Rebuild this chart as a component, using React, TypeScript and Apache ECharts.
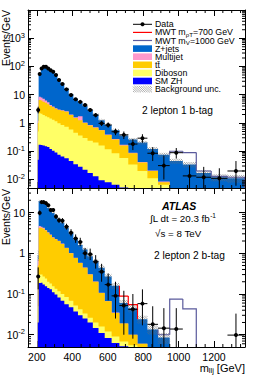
import React, { useEffect, useRef } from "react";
import * as echarts from "echarts";

// ---------- data ----------
const binEdges = [205, 210, 222, 232, 245, 258, 271, 285, 300, 316, 334, 355, 380, 406, 432, 458, 486, 516, 548, 583, 622, 666, 716, 768, 824, 884, 950, 1024, 1100, 1184, 1276, 1372];

// 2 lepton 1 b-tag
const top_data = [2.9, 54, 85, 98, 98, 85, 74, 65, 50, 33, 24, 15.5, 9.8, 6.9, 5.6, 4.3, 2.9, 1.9, 0.97, 0.85, 0.49, 0.38, 0.18, 0.29, 0.085, 0.031, 0.089, 0.0134, 0.012, 0.011, 0.02];
const top_dataLo = [2.2, 51, 82, 95, 95, 82, 71, 62, 48, 31, 22.5, 14.5, 9, 6.2, 5.0, 3.8, 2.5, 1.6, 0.78, 0.68, 0.37, 0.27, 0.11, 0.2, 0.045, 0.01, 0.055, 0.003, 0.003, 0.0025, 0.006];
const top_dataHi = [3.7, 57, 88, 101, 101, 88, 77, 68, 52, 35, 25.5, 16.5, 10.6, 7.6, 6.2, 4.8, 3.3, 2.2, 1.2, 1.05, 0.63, 0.5, 0.27, 0.4, 0.14, 0.07, 0.13, 0.032, 0.028, 0.025, 0.045];
const top_zjets = [2.0, 49.5, 80, 88.8, 87.8, 80.6, 71.7, 60.2, 46.7, 33, 22.2, 13.9, 8.5, 5.6, 3.65, 2.95, 2.05, 1.3, 0.69, 0.46, 0.28, 0.19, 0.17, 0.16, 0.1, 0.066, 0.04, 0.03, 0.014, 0.01, 0.0095];
const top_multijet = [0.2, 2.0, 1.8, 1.5, 1.0, 0.8, 0.3, 0.2, 0.1, 0.1, 0.1, 0.1, 0.1, 0.1, 0.5, 0.05, 0.03, 0.02, 0.01, 0.01, 0.01, 0.008, 0.003, 0.002, 0.001, 0.0005, 0, 0, 0, 0, 0];
const top_ttbar = [0.5, 4.3, 4.1, 3.8, 3.45, 3.0, 2.55, 2.3, 2.05, 1.92, 1.85, 1.76, 1.32, 1.05, 0.89, 0.71, 0.58, 0.48, 0.39, 0.26, 0.175, 0.102, 0.051, 0.02, 0.009, 0.0015, 0.001, 0.001, 0.001, 0.0005, 0.0005];
const top_diboson = [0.45, 2.03, 1.94, 1.74, 1.6, 1.46, 1.33, 1.2, 1.06, 0.9, 0.79, 0.68, 0.54, 0.42, 0.33, 0.27, 0.22, 0.19, 0.15, 0.11, 0.079, 0.053, 0.03, 0.017, 0.0088, 0.0049, 0.0028, 0.0021, 0.0013, 0.001, 0.0006];
const top_smzh = [0.05, 0.17, 0.165, 0.16, 0.15, 0.14, 0.12, 0.105, 0.09, 0.075, 0.065, 0.056, 0.045, 0.035, 0.028, 0.022, 0.017, 0.013, 0.0095, 0.008, 0.0065, 0.0052, 0.004, 0.003, 0.0022, 0.0016, 0.0012, 0.0009, 0.0007, 0.0005, 0.0004];
const top_unc = [0.3, 0.06, 0.05, 0.05, 0.05, 0.05, 0.05, 0.05, 0.05, 0.06, 0.06, 0.06, 0.07, 0.07, 0.08, 0.08, 0.09, 0.1, 0.1, 0.11, 0.12, 0.13, 0.14, 0.15, 0.16, 0.18, 0.2, 0.22, 0.25, 0.28, 0.3];
const top_sig700 = [0, 0, 0, 0, 0, 0, 0, 0, 0, 0, 0, 0, 0, 0, 0, 0, 0, 0, 0, 0, 0, 0, 0, 0, 0, 0, 0, 0, 0, 0, 0];
const top_sig1000 = [0, 0, 0, 0, 0, 0, 0, 0, 0, 0, 0, 0, 0, 0, 0, 0, 0, 0, 0, 0, 0, 0, 0, 0, 0, 0, 0.055, 0.056, 0.003, 0.001, 0.001];

// 2 lepton 2 b-tag
const bot_data = [0.27, 9.8, 18, 18, 17, 15, 11.5, 11.5, 8, 6.5, 6.3, 4.5, 3.2, 2.3, 1.9, 1.0, 0.95, 0.62, 0.35, 0.17, 0.09, 0.052, 0.042, 0.058, 0.018, 0.0145, 0.0138, 0, 0, 0, 0.0098];
const bot_dataLo = [0.13, 8.5, 16.5, 16.5, 15.5, 13.5, 10.2, 10.2, 7, 5.6, 5.4, 3.8, 2.6, 1.8, 1.5, 0.72, 0.68, 0.42, 0.2, 0.07, 0.025, 0.01, 0.008, 0.017, 0.003, 0.002, 0.002, 0, 0, 0, 0.0015];
const bot_dataHi = [0.45, 11.2, 19.5, 19.5, 18.5, 16.5, 12.8, 12.8, 9.2, 7.5, 7.3, 5.3, 3.9, 2.9, 2.4, 1.35, 1.3, 0.9, 0.55, 0.32, 0.2, 0.12, 0.1, 0.13, 0.05, 0.045, 0.045, 0, 0, 0, 0.033];
const bot_zjets = [0.2, 14.2, 13, 12.8, 12.75, 9.7, 8.52, 7.34, 5.55, 4.66, 3.87, 2.83, 2.135, 1.42, 1.012, 0.784, 0.536, 0.437, 0.332, 0.203, 0.125, 0.041, 0.035, 0.018, 0.0095, 0.0055, 0, 0, 0, 0, 0];
const bot_multijet = [0.2, 0.5, 0.3, 0.2, 0.15, 0.1, 0.08, 0.06, 0.05, 0.04, 0.03, 0.02, 0.015, 0.01, 0.008, 0.006, 0.004, 0.003, 0.002, 0.001, 0.001, 0, 0, 0, 0, 0, 0, 0, 0, 0, 0];
const bot_ttbar = [0.45, 3.9, 3.9, 3.73, 3.36, 3.0, 2.62, 2.245, 2.065, 1.884, 1.6, 1.265, 0.932, 0.718, 0.538, 0.407, 0.274, 0.18, 0.09, 0.054, 0.025, 0.0122, 0.0045, 0.0018, 0.0008, 0.0004, 0, 0, 0, 0, 0];
const bot_diboson = [0.03, 0.114, 0.11, 0.1, 0.085, 0.06, 0.05, 0.045, 0.038, 0.034, 0.032, 0.029, 0.021, 0.015, 0.012, 0.008, 0.006, 0.0054, 0.005, 0.0037, 0.0027, 0.0016, 0.0015, 0.0012, 0.0007, 0.0006, 0, 0, 0, 0, 0];
const bot_smzh = [0.02, 0.186, 0.19, 0.17, 0.155, 0.14, 0.13, 0.11, 0.097, 0.082, 0.068, 0.056, 0.047, 0.037, 0.03, 0.025, 0.02, 0.0146, 0.011, 0.0083, 0.0063, 0.0052, 0.004, 0.003, 0.0025, 0.002, 0, 0, 0, 0, 0];
const bot_unc = [0.3, 0.08, 0.07, 0.07, 0.07, 0.07, 0.07, 0.07, 0.08, 0.08, 0.08, 0.09, 0.09, 0.1, 0.1, 0.11, 0.12, 0.13, 0.14, 0.15, 0.16, 0.18, 0.2, 0.22, 0.25, 0.3, 0, 0, 0, 0, 0];
const bot_sig700 = [0, 0, 0, 0, 0, 0, 0, 0, 0, 0, 0, 0, 0, 0, 0, 0, 0, 0, 0, 0, 0, 0.029, 0.01, 0, 0, 0, 0, 0, 0, 0, 0];
const bot_sig1000 = [0, 0, 0, 0, 0, 0, 0, 0, 0, 0, 0, 0, 0, 0, 0, 0, 0, 0, 0, 0, 0, 0, 0, 0, 0, 0.0015, 0.075, 0.043, 0, 0, 0];

const xTickValues = [200, 400, 600, 800, 1000, 1200];
const legendNames = ["Data", "MWT m{sub|ρT}=700 GeV", "MWT m{sub|V}=1000 GeV", "Z+jets", "Multijet", "tt\u0304", "Diboson", "SM ZH", "Background unc."];

// ---------- style ----------
const X_MIN = 150;
const X_MAX = 1375;
const FONT = "Liberation Sans, Arial, Helvetica, sans-serif";
const C = {
  zjets: "#0066cc",
  multijet: "#ff99cc",
  ttbar: "#ffcc00",
  diboson: "#ffff66",
  smzh: "#0000ff",
  sig700: "#ff0000",
  sig1000: "#5a5a9c",
};

function cumul(...arrs: number[][]) {
  return arrs[0].map((_, i) => arrs.reduce((s, a) => s + a[i], 0));
}

function buildPanel(p: number, d: any, ymin: number, ymax: number) {
  const xi = p * 2;
  const yi = p * 2;
  const zh = d.smzh;
  const dib = cumul(d.smzh, d.diboson);
  const tt = cumul(d.smzh, d.diboson, d.ttbar);
  const mj = cumul(d.smzh, d.diboson, d.ttbar, d.multijet);
  const tot = cumul(d.smzh, d.diboson, d.ttbar, d.multijet, d.zjets);
  const binData = binEdges.slice(0, -1).map((e, i) => [e, binEdges[i + 1], tot[i]]);
  const series: any[] = [];

  const layer = (vals: number[], color: string) => ({
    type: "custom",
    xAxisIndex: xi,
    yAxisIndex: yi,
    clip: true,
    silent: true,
    data: binData,
    renderItem: (params: any, api: any) => {
      if (params.dataIndex !== 0) return null;
      const pts: number[][] = [];
      pts.push(api.coord([binEdges[0], ymin]));
      vals.forEach((v, i) => {
        const vv = Math.max(v, ymin);
        pts.push(api.coord([binEdges[i], vv]));
        pts.push(api.coord([binEdges[i + 1], vv]));
      });
      pts.push(api.coord([binEdges[binEdges.length - 1], ymin]));
      return { type: "polygon", shape: { points: pts }, style: { fill: color, stroke: null } };
    },
  });
  series.push(layer(tot, C.zjets));
  series.push(layer(mj, C.multijet));
  series.push(layer(tt, C.ttbar));
  series.push(layer(dib, C.diboson));
  series.push(layer(zh, C.smzh));

  // uncertainty hatch
  series.push({
    type: "custom",
    xAxisIndex: xi,
    yAxisIndex: yi,
    clip: true,
    silent: true,
    data: binData,
    renderItem: (params: any, api: any) => {
      const i = params.dataIndex;
      const u = d.unc[i];
      const t = tot[i];
      if (!(t > 0) || !(u > 0)) return null;
      const lo = Math.max(t * (1 - u), ymin);
      const hi = Math.max(t * (1 + u), ymin);
      const a = api.coord([binEdges[i], hi]);
      const b = api.coord([binEdges[i + 1], lo]);
      const x0 = a[0], y0 = a[1], x1 = b[0], y1 = b[1];
      const s = 2.2;
      const children: any[] = [];
      const cStart = Math.floor((y0 - x1) / s) * s;
      for (let c = cStart; c <= y1 - x0; c += s) {
        const xa = Math.max(x0, y0 - c);
        const xb = Math.min(x1, y1 - c);
        if (xb > xa) {
          children.push({ type: "line", shape: { x1: xa, y1: xa + c, x2: xb, y2: xb + c }, style: { stroke: "#6b6b6b", lineWidth: 0.6 } });
        }
      }
      return { type: "group", children };
    },
  });

  // signal outlines (stacked on background)
  const sigLine = (sig: number[], color: string) => ({
    type: "custom",
    xAxisIndex: xi,
    yAxisIndex: yi,
    clip: true,
    silent: true,
    data: binData,
    renderItem: (params: any, api: any) => {
      const i = params.dataIndex;
      if (!(sig[i] > 0)) return null;
      const out = (k: number) => (k < 0 || k >= tot.length ? ymin : Math.max(tot[k] + sig[k], ymin));
      const pts: number[][] = [];
      pts.push(api.coord([binEdges[i], out(i - 1)]));
      pts.push(api.coord([binEdges[i], out(i)]));
      pts.push(api.coord([binEdges[i + 1], out(i)]));
      if (!(sig[i + 1] > 0)) pts.push(api.coord([binEdges[i + 1], out(i + 1)]));
      return { type: "polyline", shape: { points: pts }, style: { stroke: color, lineWidth: 1.2, fill: null } };
    },
  });
  series.push(sigLine(d.sig700, C.sig700));
  series.push(sigLine(d.sig1000, C.sig1000));

  // data points
  series.push({
    type: "custom",
    xAxisIndex: xi,
    yAxisIndex: yi,
    clip: true,
    silent: true,
    data: binEdges.slice(0, -1).map((e, i) => [(e + binEdges[i + 1]) / 2, d.data[i]]),
    renderItem: (params: any, api: any) => {
      const i = params.dataIndex;
      const v = d.data[i];
      if (!(v > 0)) return null;
      const c = api.coord([api.value(0), v]);
      const l = api.coord([binEdges[i], v]);
      const r = api.coord([binEdges[i + 1], v]);
      const lo = api.coord([api.value(0), Math.max(d.dataLo[i], ymin)]);
      const hi = api.coord([api.value(0), d.dataHi[i]]);
      return {
        type: "group",
        children: [
          { type: "line", shape: { x1: c[0], y1: lo[1], x2: c[0], y2: hi[1] }, style: { stroke: "#000", lineWidth: 1 } },
          { type: "line", shape: { x1: l[0], y1: c[1], x2: r[0], y2: c[1] }, style: { stroke: "#000", lineWidth: 1 } },
          { type: "circle", shape: { cx: c[0], cy: c[1], r: 2 }, style: { fill: "#000" } },
        ],
      };
    },
  });

  // minor ticks (log y and linear x)
  const ticks: number[][] = [];
  for (let k = -3; k <= 4; k++) for (let m = 2; m <= 9; m++) ticks.push([0, m * Math.pow(10, k)]);
  for (let xv = 50; xv <= 1400; xv += 50) if (xv % 200 !== 0) ticks.push([1, xv]);
  series.push({
    type: "custom",
    xAxisIndex: xi,
    yAxisIndex: yi,
    clip: false,
    silent: true,
    data: ticks,
    renderItem: (params: any, api: any) => {
      const kind = api.value(0);
      const v = api.value(1);
      const cs = params.coordSys;
      const st = { stroke: "#000", lineWidth: 1 };
      if (kind === 0) {
        if (v <= ymin || v >= ymax) return null;
        const y = api.coord([X_MIN, v])[1];
        return {
          type: "group",
          children: [
            { type: "line", shape: { x1: cs.x, y1: y, x2: cs.x + 3, y2: y }, style: st },
            { type: "line", shape: { x1: cs.x + cs.width - 3, y1: y, x2: cs.x + cs.width, y2: y }, style: st },
          ],
        };
      }
      if (v <= X_MIN || v >= X_MAX) return null;
      const x = api.coord([v, ymin])[0];
      return {
        type: "group",
        children: [
          { type: "line", shape: { x1: x, y1: cs.y + cs.height, x2: x, y2: cs.y + cs.height - 3 }, style: st },
          { type: "line", shape: { x1: x, y1: cs.y, x2: x, y2: cs.y + 3 }, style: st },
        ],
      };
    },
  });
  return series;
}

const yFormatter = (v: number) => {
  const l = Math.log10(v);
  const k = Math.round(l);
  if (Math.abs(l - k) > 1e-6) return "";
  if (k === 0) return "1";
  if (k === 1) return "10";
  return `10{sup|${k}}`;
};

function xAxisCfg(grid: number, pos: "top" | "bottom", labels: boolean) {
  return {
    type: "value",
    gridIndex: grid,
    position: pos,
    min: X_MIN,
    max: X_MAX,
    splitNumber: 6,
    axisLine: { show: true, onZero: false, lineStyle: { color: "#000", width: 1 } },
    axisTick: { show: true, inside: true, length: 6, lineStyle: { color: "#000" } },
    axisLabel: {
      show: labels,
      fontSize: 10.5,
      fontFamily: FONT,
      color: "#000",
      margin: 4,
      showMinLabel: false,
      showMaxLabel: false,
      formatter: (v: number) => (xTickValues.includes(Math.round(v)) ? String(Math.round(v)) : ""),
    },
    splitLine: { show: false },
  };
}

function yAxisCfg(grid: number, pos: "left" | "right", labels: boolean, min: number, max: number) {
  return {
    type: "log",
    logBase: 10,
    gridIndex: grid,
    position: pos,
    min,
    max,
    axisLine: { show: true, lineStyle: { color: "#000", width: 1 } },
    axisTick: { show: true, inside: true, length: 6, lineStyle: { color: "#000" } },
    axisLabel: {
      show: labels,
      fontSize: 10.5,
      fontFamily: FONT,
      color: "#000",
      margin: 3,
      showMinLabel: false,
      showMaxLabel: false,
      formatter: yFormatter,
      rich: { sup: { fontSize: 7.5, fontFamily: FONT, color: "#000", verticalAlign: "top", padding: [0, 0, 6, 0] } },
    },
    splitLine: { show: false },
  };
}

function legendGraphic() {
  const els: any[] = [];
  const x0 = 133, x1 = 152, tx = 155;
  const rich = { sub: { fontSize: 6.2, fontFamily: FONT, fill: "#000", padding: [4, 0, 0, 0], lineHeight: 7 } };
  const fills = [C.zjets, C.multijet, C.ttbar, C.diboson, C.smzh];
  legendNames.forEach((name, i) => {
    const y = 24.3 + i * 8.1;
    els.push({ type: "text", x: tx, y, style: { text: name, fontSize: 8.8, lineHeight: 7, fontFamily: FONT, fill: "#000", verticalAlign: "middle", rich } });
    if (i === 0) {
      els.push({ type: "line", shape: { x1: x0, y1: y, x2: x1, y2: y }, style: { stroke: "#000", lineWidth: 1 } });
      els.push({ type: "circle", shape: { cx: (x0 + x1) / 2, cy: y, r: 2 }, style: { fill: "#000" } });
    } else if (i === 1 || i === 2) {
      els.push({ type: "line", shape: { x1: x0, y1: y, x2: x1, y2: y }, style: { stroke: i === 1 ? C.sig700 : C.sig1000, lineWidth: 1.2 } });
    } else if (i >= 3 && i <= 7) {
      els.push({ type: "rect", shape: { x: x0, y: y - 3.3, width: x1 - x0, height: 6.6 }, style: { fill: fills[i - 3] } });
    } else {
      const yt = y - 3.3, yb = y + 3.3;
      for (let c = yt - x1; c <= yb - x0; c += 2.2) {
        const xa = Math.max(x0, yt - c);
        const xb = Math.min(x1, yb - c);
        if (xb > xa) els.push({ type: "line", shape: { x1: xa, y1: xa + c, x2: xb, y2: xb + c }, style: { stroke: "#777", lineWidth: 0.6 } });
      }
    }
  });
  return els;
}

function buildOption() {
  const topP = { data: top_data, dataLo: top_dataLo, dataHi: top_dataHi, zjets: top_zjets, multijet: top_multijet, ttbar: top_ttbar, diboson: top_diboson, smzh: top_smzh, unc: top_unc, sig700: top_sig700, sig1000: top_sig1000 };
  const botP = { data: bot_data, dataLo: bot_dataLo, dataHi: bot_dataHi, zjets: bot_zjets, multijet: bot_multijet, ttbar: bot_ttbar, diboson: bot_diboson, smzh: bot_smzh, unc: bot_unc, sig700: bot_sig700, sig1000: bot_sig1000 };
  const txt = (text: string, x: number, y: number, extra: any = {}) => ({
    type: "text",
    x,
    y,
    style: { text, fontSize: 10, fontFamily: FONT, fill: "#000", verticalAlign: "middle", ...extra },
  });
  const vtitle = (y: number) => ({
    type: "text",
    x: 6,
    y,
    rotation: Math.PI / 2,
    style: { text: "Events/GeV", fontSize: 10.5, fontFamily: FONT, fill: "#000", align: "right", verticalAlign: "middle" },
  });
  return {
    animation: false,
    backgroundColor: "#fff",
    grid: [
      { left: 28, top: 10, width: 217, height: 178 },
      { left: 28, top: 188, width: 217, height: 159 },
    ],
    xAxis: [xAxisCfg(0, "bottom", false), xAxisCfg(0, "top", false), xAxisCfg(1, "bottom", true), xAxisCfg(1, "top", false)],
    yAxis: [yAxisCfg(0, "left", true, 0.005, 10000), yAxisCfg(0, "right", false, 0.005, 10000), yAxisCfg(1, "left", true, 0.005, 40), yAxisCfg(1, "right", false, 0.005, 40)],
    series: [...buildPanel(0, topP, 0.005, 10000), ...buildPanel(1, botP, 0.005, 40)],
    graphic: [
      ...legendGraphic(),
      txt("2 lepton 1 b-tag", 142, 110, { fontSize: 10.2 }),
      txt("ATLAS", 162, 206, { fontSize: 10.5, fontWeight: "bold", fontStyle: "italic" }),
      txt("\u222BL dt = 20.3 fb{sup|-1}", 150, 218, { fontSize: 9.8, rich: { sup: { fontSize: 6.5, fontFamily: FONT, fill: "#000", padding: [0, 0, 5, 0] } } }),
      txt("\u221As = 8 TeV", 155, 233, { fontSize: 9.8 }),
      txt("2 lepton 2 b-tag", 154, 255, { fontSize: 10.2 }),
      vtitle(10),
      vtitle(189),
      {
        type: "text",
        x: 245,
        y: 368,
        style: {
          text: "m{sub|llj} [GeV]",
          fontSize: 11,
          fontFamily: FONT,
          fill: "#000",
          align: "right",
          verticalAlign: "middle",
          rich: { sub: { fontSize: 7.5, fontFamily: FONT, fill: "#000", padding: [5, 0, 0, 0] } },
        },
      },
    ],
  };
}

export default function App() {
  const ref = useRef<HTMLDivElement>(null);
  useEffect(() => {
    const chart = echarts.init(ref.current!, null, { renderer: "svg" });
    chart.setOption(buildOption() as any);
    return () => chart.dispose();
  }, []);
  return <div ref={ref} style={{ position: "fixed", left: 0, top: 0, width: 258, height: 376, background: "#fff" }} />;
}
